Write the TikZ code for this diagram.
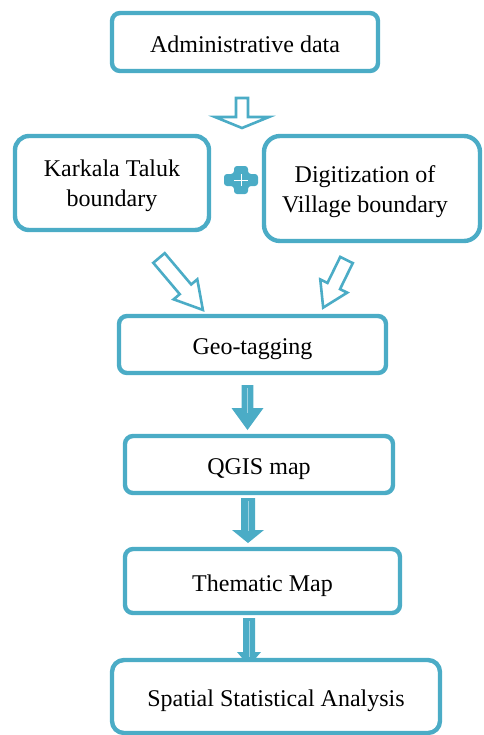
\documentclass[tikz,border=0pt]{standalone}
\usepackage{fontspec}
\setmainfont{Liberation Serif}
\definecolor{acc}{HTML}{4BACC6}
\definecolor{acclight}{HTML}{9ED3E2}
\tikzset{
  box/.style={draw=acc, line width=2.2pt, fill=white, rounded corners=#1, inner sep=0pt,
    font=\fontsize{12}{14.8}\selectfont, align=center, text height=10pt, text depth=0pt},
  box/.default=4pt,
  boxtext/.style={font=\fontsize{12}{14.8}\selectfont, align=center},
  hollowarrow/.style={draw=acc, line width=1.3pt, fill=white, line join=miter},
  fullarrow/.style={fill=acc, draw=none},
}
\newcommand\blockarrow[7]{%
  \begin{scope}[shift={(#2)}, rotate=#3]
    \path[#1] (0,-#5) -- (#4-#7,-#5) -- (#4-#7,-#6) -- (#4,0) -- (#4-#7,#6) -- (#4-#7,#5) -- (0,#5) -- cycle;
  \end{scope}}
\begin{document}
\begin{tikzpicture}[x=0.5pt, y=-0.5pt]
\useasboundingbox (0,0) rectangle (483,735);
% block arrows (drawn first, boxes cover their ends)
\coordinate (ta) at (242,98);
\coordinate (tl) at (159,258);
\coordinate (tr) at (346.5,260);
\coordinate (t1) at (247.5,385);
\coordinate (t2) at (248,498);
\coordinate (t3) at (249,618);
\blockarrow{hollowarrow}{ta}{-90}{30}{6}{27}{11}
\blockarrow{hollowarrow}{tl}{-49.8}{68}{7.5}{15.5}{27}
\blockarrow{hollowarrow}{tr}{-116.1}{53}{7}{15}{24}
\blockarrow{fullarrow}{t1}{-90}{45}{5.8}{16}{22}
\blockarrow{fullarrow}{t2}{-90}{45}{7}{16}{13}
\blockarrow{fullarrow}{t3}{-90}{48}{6}{12}{14}
\draw[acclight, line width=0.5pt] (t1) ++(0,3) -- ++(0,25);
\draw[acclight, line width=0.5pt] (t2) ++(0,3) -- ++(0,30);
\draw[acclight, line width=0.5pt] (t3) ++(0,3) -- ++(0,36);
% plus sign
\coordinate (pc) at (241,180);
\fill[acc, rounded corners=1.5pt] (pc) ++(-7,-14) -- ++(14,0) -- ++(0,8) -- ++(10,0) -- ++(0,12) -- ++(-10,0) -- ++(0,8) -- ++(-14,0) -- ++(0,-8) -- ++(-10,0) -- ++(0,-12) -- ++(10,0) -- cycle;
\draw[white, line width=0.4pt] (pc) ++(-7,0) -- ++(14,0);
\draw[white, line width=0.4pt] (pc) ++(0,-6) -- ++(0,12);
% boxes
\node[box=4pt, minimum width=133pt, minimum height=29pt] (admin) at (245,42) {Administrative data};
\node[box=7pt, minimum width=97pt, minimum height=47pt] (karkala) at (112,183) {};
\node[boxtext] (karkalat) at (112,186) {Karkala Taluk\\boundary};
\node[box=8pt, minimum width=108pt, minimum height=52.5pt] (digit) at (372,188.5) {};
\node[boxtext] (digitt) at (365,191.5) {Digitization of\\Village boundary};
\node[box=4pt, minimum width=133.5pt, minimum height=28.5pt] (geo) at (252.5,344.5) {Geo-tagging};
\node[box=4pt, minimum width=134pt, minimum height=28.5pt] (qgis) at (259,464.5) {QGIS map};
\node[box=4pt, minimum width=137.5pt, minimum height=32pt] (them) at (262.5,581) {Thematic Map};
\node[box=6pt, minimum width=164pt, minimum height=36.5pt] (spat) at (276,696.5) {Spatial Statistical Analysis};
\end{tikzpicture}
\end{document}
